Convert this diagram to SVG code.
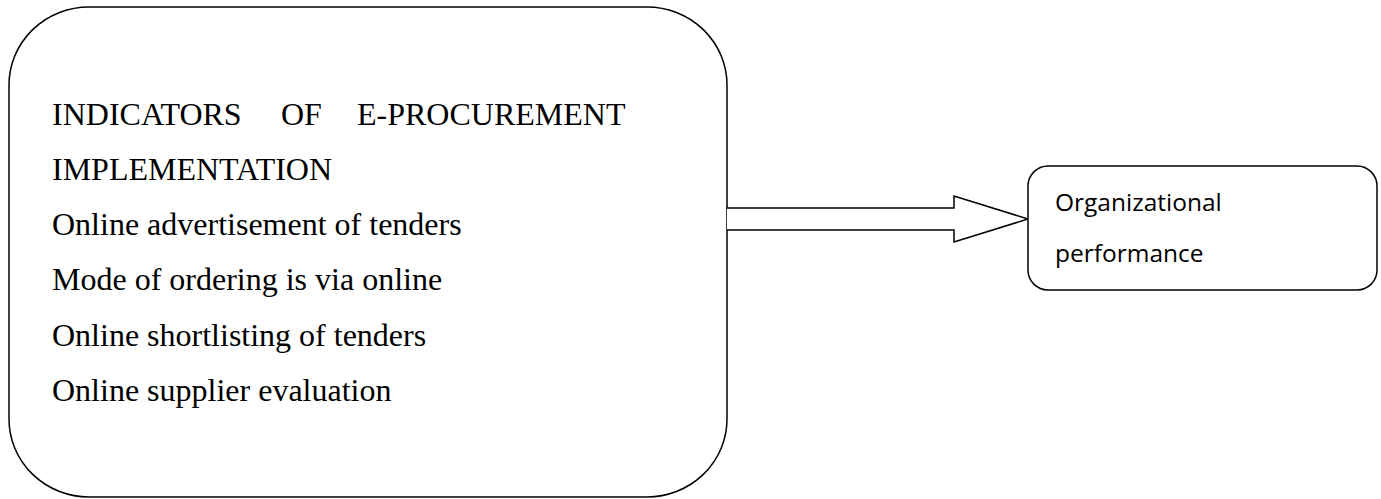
<svg xmlns="http://www.w3.org/2000/svg" width="1381" height="499" viewBox="0 0 1381 499">
<style>
.box{fill:#fff;stroke:#000;stroke-width:1.5}
.t{font-family:"Liberation Serif","Times New Roman",serif;font-size:32px;fill:#000}
.s{font-family:"Open Sans","Noto Sans",sans-serif;font-size:24.5px;fill:#000}
</style>
<rect width="1381" height="499" fill="#fff"/>
<g id="indicators">
<rect class="box" x="9" y="7" width="718" height="490" rx="80" ry="78"/>
<text class="t" x="52" y="125">INDICATORS</text>
<text class="t" x="281" y="125">OF</text>
<text class="t" x="357" y="125">E-PROCUREMENT</text>
<text class="t" x="52" y="180">IMPLEMENTATION</text>
<text class="t" x="52" y="235">Online advertisement of tenders</text>
<text class="t" x="52" y="290">Mode of ordering is via online</text>
<text class="t" x="52" y="346">Online shortlisting of tenders</text>
<text class="t" x="52" y="401">Online supplier evaluation</text>
</g>
<g id="connectors">
<path d="M727 208 H954 V196 L1028 219 L954 242 V230 H727" fill="#fff" stroke="#000" stroke-width="1.5"/>
</g>
<g id="performance">
<rect class="box" x="1028" y="166" width="349" height="124" rx="20" ry="20"/>
<text class="s" x="1055" y="211">Organizational</text>
<text class="s" x="1055" y="262">performance</text>
</g>
</svg>
